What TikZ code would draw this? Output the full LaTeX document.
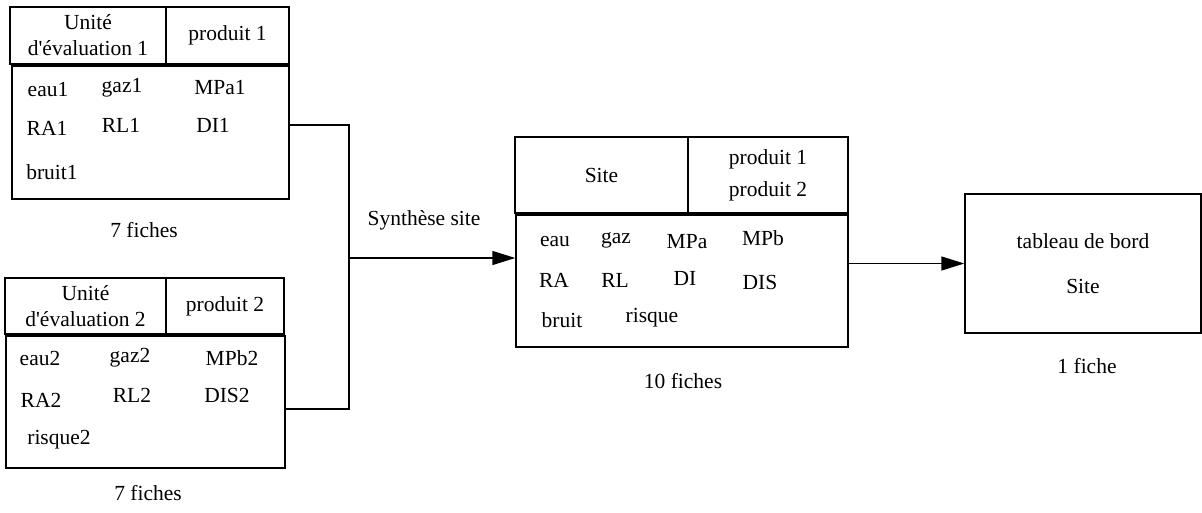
\documentclass[tikz,border=0pt]{standalone}
\usepackage{fontspec}
\setmainfont{Liberation Serif}
\usetikzlibrary{arrows.meta}

\begin{document}
\begin{tikzpicture}[x=1pt,y=-1pt,line width=1.4pt,
  every node/.style={font=\fontsize{21.5}{26}\selectfont},
  cell/.style={draw,inner sep=0pt,align=center},
  item/.style={inner sep=0pt},
  arr/.style={-{Triangle[length=23pt,width=14pt]}}]
\useasboundingbox (0,0) rectangle (1202,513);
% unite 1
 \node[cell,minimum width=156pt,minimum height=57pt] (u1name) at (88,35.5) {Unité\\d\textquotesingle évaluation 1};
 \node[cell,minimum width=123pt,minimum height=57pt] (u1prod) at (227.5,35.5) {produit 1};
 \node[cell,minimum width=277pt,minimum height=133pt] (u1body) at (150.5,132.5) {};
 \foreach \t/\x/\y in {eau1/48/90,gaz1/122/88,MPa1/220/88,RA1/47/128,RL1/121/125,DI1/213/125,bruit1/52/172}
  \node[item] (u1\t) at (\x,\y) {\t};
 \node (u1nb) at (144,230) {7 fiches};
% unite 2
 \node[cell,minimum width=161pt,minimum height=56pt] (u2name) at (85.5,306) {Unité\\d\textquotesingle évaluation 2};
 \node[cell,minimum width=118pt,minimum height=56pt] (u2prod) at (225,306) {produit 2};
 \node[cell,minimum width=279pt,minimum height=132pt] (u2body) at (145.5,402) {};
 \foreach \t/\x/\y in {eau2/40/358,gaz2/130/358,MPb2/232/358,RA2/41/400,RL2/132/395,DIS2/227/395,risque2/59/440}
  \node[item] (u2\t) at (\x,\y) {\t};
 \node (u2nb) at (148,493) {7 fiches};
% site
 \node[cell,minimum width=173pt,minimum height=76pt] (sname) at (601.5,175) {Site};
 \node[cell,minimum width=160pt,minimum height=76pt] (sprod) at (768,175) {produit 1\\[6pt]produit 2};
 \node[cell,minimum width=332pt,minimum height=132pt] (sbody) at (682,281) {};
 \foreach \t/\x/\y in {eau/555/242,gaz/616/240,MPa/687/242,MPb/763/238,RA/554/280,RL/615/280,DI/685/278,DIS/760/282,bruit/562/320,risque/652/318}
  \node[item] (s\t) at (\x,\y) {\t};
 \node (snb) at (683,381) {10 fiches};
% tableau de bord
 \node[cell,minimum width=236pt,minimum height=139pt] (tab) at (1083,263.5) {tableau de bord\\[19pt]Site};
 \node (tabnb) at (1087,366) {1 fiche};
% liens
 \coordinate (merge) at (349,258);
 \draw ([yshift=7.5pt]u1body.east) -| (merge);
 \draw ([yshift=-7pt]u2body.east) -| (merge);
 \draw[arr] (merge) -- (merge -| sbody.west);
 \node (synth) at (424,220) {Synthèse site};
 \draw[arr] (sbody.east |- tab.west) -- (tab.west);
\end{tikzpicture}
\end{document}
